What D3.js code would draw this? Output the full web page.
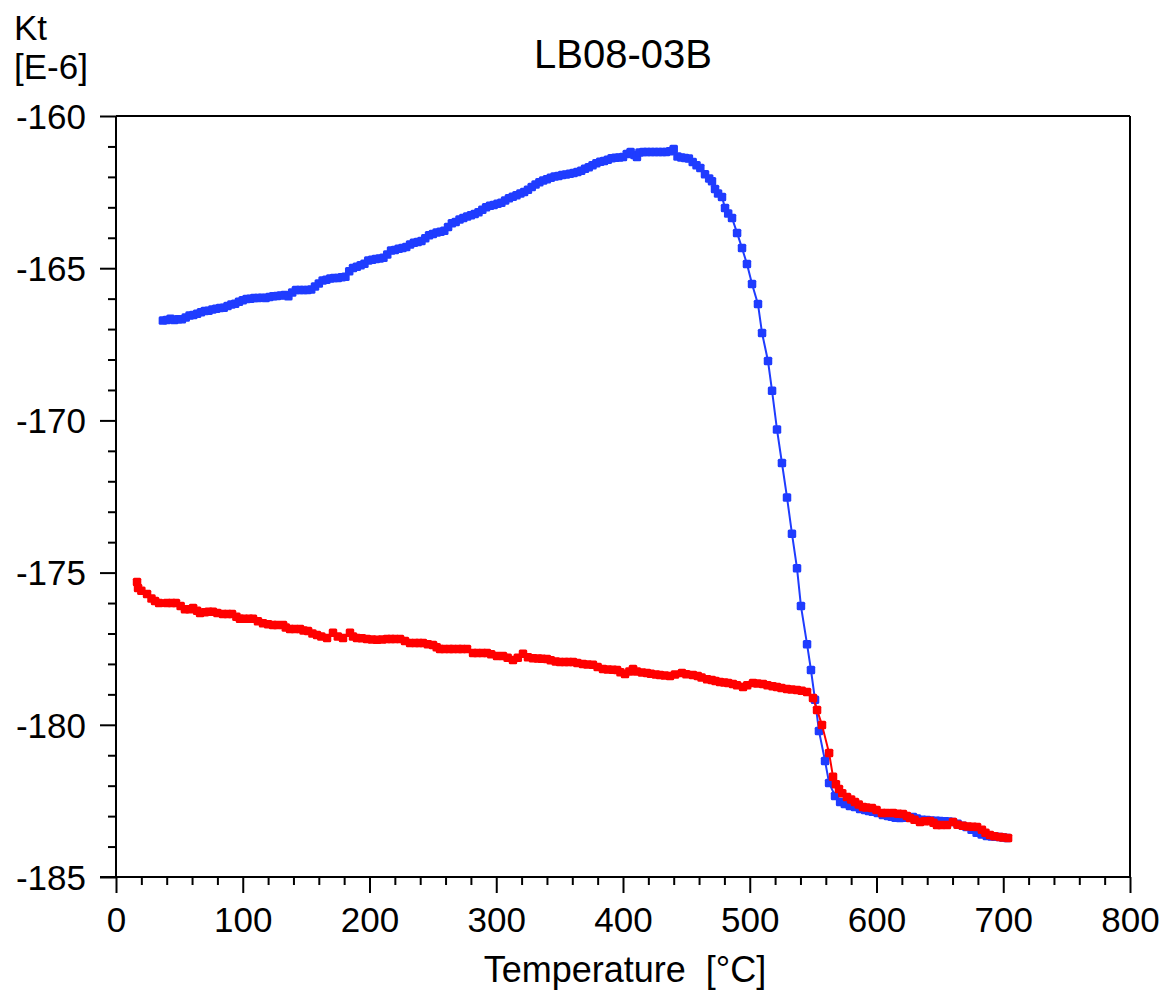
<!DOCTYPE html>
<html>
<head>
<meta charset="utf-8">
<script src="https://cdn.jsdelivr.net/npm/d3@7"></script>
<style>
  html, body { margin: 0; padding: 0; background: #fff; }
  svg { display: block; }
  text { font-family: "Liberation Sans", Arial, Helvetica, sans-serif; fill: #000; }
</style>
</head>
<body>
<svg id="chart" width="1166" height="991"></svg>
<script>
// ---- data ----
const chartTitle = "LB08-03B";
const yUnitLines = ["Kt", "[E-6]"];
const xAxisTitle = "Temperature  [°C]";
const xTicks = [0, 100, 200, 300, 400, 500, 600, 700, 800];
const yTicks = [-185, -180, -175, -170, -165, -160];

// heating curve (blue): temperature °C
const heatT = [37,40,43,46,49,52,55,58,61,64,67,70,73,76,79,82,85,88,91,94,97,100,103,106,109,112,115,118,121,124,127,130,133,136,139,142,145,148,151,154,157,160,163,166,169,172,175,178,181,184,187,190,193,196,199,202,205,208,211,214,217,220,223,226,229,232,235,238,241,244,247,250,253,256,259,262,265,268,271,274,277,280,283,286,289,292,295,298,301,304,307,310,313,316,319,322,325,328,331,334,337,340,343,346,349,352,355,358,361,364,367,370,373,376,379,382,385,388,391,394,397,400,403,406,409,411,413,416,419,422,425,428,431,434,437,440,443,446,449,452,455,458,461,464.7,468,470.2,472.6,475,478.1,480.5,483,486,490,493.9,497.8,501.8,506.5,509.7,514.4,517.6,521.5,525.4,529.4,533.3,537.3,540.4,545.2,548.3,551.5,554.6,559.4,562.6,567.3,571.3,575,579,583,587,591,594,597,601,605,609,612,615,618.5,622,625,628.8,632,636,639.8,643,647,650,654,657,660,664,668,671,675,679,683,687,691,694,697,700,703];
// heating curve (blue): Kt [E-6]
const heatK = [-166.72,-166.70,-166.66,-166.70,-166.68,-166.68,-166.62,-166.55,-166.54,-166.50,-166.45,-166.41,-166.40,-166.36,-166.33,-166.31,-166.30,-166.24,-166.19,-166.17,-166.10,-166.05,-166.01,-166.00,-165.98,-165.98,-165.97,-165.98,-165.95,-165.92,-165.91,-165.90,-165.88,-165.92,-165.80,-165.72,-165.72,-165.72,-165.72,-165.70,-165.60,-165.50,-165.40,-165.38,-165.34,-165.32,-165.32,-165.30,-165.28,-165.10,-164.99,-164.95,-164.90,-164.85,-164.75,-164.72,-164.70,-164.68,-164.66,-164.55,-164.42,-164.40,-164.36,-164.34,-164.30,-164.22,-164.16,-164.14,-164.11,-164.02,-163.92,-163.88,-163.83,-163.80,-163.77,-163.65,-163.52,-163.48,-163.40,-163.35,-163.30,-163.26,-163.22,-163.16,-163.08,-163.00,-162.95,-162.92,-162.88,-162.85,-162.78,-162.70,-162.65,-162.60,-162.55,-162.50,-162.42,-162.33,-162.25,-162.18,-162.12,-162.08,-162.03,-161.99,-161.97,-161.94,-161.92,-161.90,-161.87,-161.84,-161.80,-161.73,-161.68,-161.62,-161.55,-161.50,-161.48,-161.44,-161.39,-161.37,-161.36,-161.35,-161.25,-161.18,-161.28,-161.35,-161.20,-161.18,-161.18,-161.18,-161.18,-161.18,-161.18,-161.18,-161.16,-161.08,-161.33,-161.36,-161.38,-161.40,-161.51,-161.62,-161.71,-161.91,-162.05,-162.14,-162.40,-162.55,-162.66,-163.02,-163.20,-163.35,-163.84,-164.34,-164.86,-165.52,-166.18,-167.13,-168.05,-169.03,-170.30,-171.40,-172.53,-173.72,-174.86,-176.10,-177.35,-178.20,-179.18,-180.20,-181.19,-181.91,-182.34,-182.54,-182.60,-182.67,-182.70,-182.77,-182.80,-182.83,-182.86,-182.90,-182.96,-183.00,-183.02,-183.05,-183.06,-183.05,-183.04,-183.03,-183.08,-183.12,-183.13,-183.14,-183.15,-183.16,-183.17,-183.18,-183.19,-183.25,-183.32,-183.36,-183.45,-183.55,-183.60,-183.65,-183.67,-183.68,-183.69,-183.70,-183.72];

// cooling curve (red): temperature °C
const coolT = [16.6,17.4,20,24.5,28,30.8,34,40.2,44,47.3,51,54.4,58,60.8,64,66.3,70,73,76.5,80,84.4,88,91.5,95,97.8,101,105,108.1,112,116,120,123.9,127,131.8,134,137.3,141,145.2,148,151.5,155,158.6,162,166.5,171.2,175,179.1,184.6,187,190.1,194,198,202,205.9,210,213.8,217,220,224.1,228,232,236,239,242.2,246,250.1,253,255.6,259,263,266,270,273,276.9,281.7,285,289,292.7,296,300.6,305.3,309,313.2,317,321.1,325,329,333,336,340,343,347,350.3,354,357,360.6,364,368.4,372,376.3,380,384.2,388,392,395.3,398,401.6,405,407.9,411,415,418.9,422,426,429.2,433,437.1,441,446.5,450,455.2,459,462,466.3,470,473,476.5,480,483,486.8,490,494.7,498,502.6,506,510.5,514,518,521.5,525,529.4,533,537.3,541,545.2,549.9,553.1,557,562.6,565.7,568,570.4,573,576.7,580,583,586,589.3,592,596.4,600,604.3,608,613,617,620.9,624,626.4,630,634.3,638,642.2,645,647.7,651,655.6,660.4,664,668.3,672,676,679.3,683.2,686,689.5,693,697.4,700,703.8];
// cooling curve (red): Kt [E-6]
const coolK = [-175.31,-175.51,-175.60,-175.70,-175.85,-175.93,-176.00,-176.00,-176.00,-176.00,-176.10,-176.20,-176.20,-176.16,-176.25,-176.33,-176.30,-176.29,-176.29,-176.33,-176.36,-176.36,-176.36,-176.45,-176.52,-176.52,-176.52,-176.52,-176.60,-176.66,-176.70,-176.72,-176.72,-176.72,-176.80,-176.85,-176.85,-176.85,-176.90,-176.92,-177.00,-177.05,-177.10,-177.15,-176.98,-177.10,-177.15,-176.98,-177.10,-177.15,-177.16,-177.18,-177.20,-177.21,-177.20,-177.18,-177.18,-177.18,-177.18,-177.25,-177.31,-177.31,-177.31,-177.31,-177.35,-177.38,-177.45,-177.51,-177.51,-177.51,-177.51,-177.51,-177.51,-177.51,-177.64,-177.64,-177.64,-177.64,-177.68,-177.74,-177.74,-177.80,-177.87,-177.80,-177.67,-177.78,-177.81,-177.82,-177.83,-177.84,-177.88,-177.92,-177.94,-177.94,-177.94,-177.94,-177.97,-178.00,-178.02,-178.03,-178.10,-178.17,-178.18,-178.19,-178.20,-178.27,-178.33,-178.25,-178.17,-178.25,-178.28,-178.30,-178.32,-178.35,-178.36,-178.38,-178.40,-178.35,-178.30,-178.34,-178.36,-178.40,-178.45,-178.50,-178.53,-178.56,-178.59,-178.61,-178.63,-178.66,-178.70,-178.76,-178.70,-178.63,-178.64,-178.66,-178.70,-178.73,-178.76,-178.79,-178.82,-178.84,-178.86,-178.88,-178.92,-179.12,-179.51,-180.01,-180.93,-181.71,-181.95,-182.11,-182.25,-182.37,-182.45,-182.54,-182.62,-182.70,-182.72,-182.73,-182.80,-182.90,-182.90,-182.90,-182.92,-182.93,-183.00,-183.06,-183.12,-183.19,-183.17,-183.16,-183.22,-183.29,-183.29,-183.29,-183.19,-183.28,-183.32,-183.34,-183.35,-183.36,-183.45,-183.55,-183.62,-183.66,-183.69,-183.70,-183.72];

// ---- chart ----
const W = 1166, H = 991;
const margin = { left: 116, right: 36, top: 116, bottom: 114 };
const svg = d3.select("#chart");

const x = d3.scaleLinear().domain([0, 800]).range([margin.left, W - margin.right]);
const y = d3.scaleLinear().domain([-185, -160]).range([H - margin.bottom, margin.top]);

const FS = 35;
const blue = "#1f3cff";
const red = "#ff0000";
const fmt = d => String(d);

// frame (top and right)
svg.append("line").attr("x1", x(800)).attr("x2", x(800)).attr("y1", y(-160)).attr("y2", y(-185))
  .attr("stroke", "#000").attr("stroke-width", 2);
svg.append("line").attr("x1", x(0)).attr("x2", x(800)).attr("y1", y(-160)).attr("y2", y(-160))
  .attr("stroke", "#000").attr("stroke-width", 2);

// x axis
const xMinor = d3.range(0, 801, 20).filter(v => v % 100 !== 0);
const xAxis = svg.append("g").attr("transform", `translate(0,${y(-185)})`);
xAxis.call(d3.axisBottom(x).tickValues(xTicks).tickSize(16).tickPadding(14).tickFormat(fmt));
xAxis.append("g").call(d3.axisBottom(x).tickValues(xMinor).tickSize(8).tickFormat(""))
  .select(".domain").remove();

// y axis
const yMinor = d3.range(-185, -159, 1).filter(v => v % 5 !== 0);
const yAxis = svg.append("g").attr("transform", `translate(${x(0)},0)`);
yAxis.call(d3.axisLeft(y).tickValues(yTicks).tickSize(16).tickPadding(14).tickFormat(fmt));
yAxis.append("g").call(d3.axisLeft(y).tickValues(yMinor).tickSize(8).tickFormat(""))
  .select(".domain").remove();

xAxis.select(".domain").attr("d", `M${x(0) - 16},0H${x(800)}`).attr("stroke-width", 2);
yAxis.select(".domain").attr("d", `M0,${y(-185)}V${y(-160)}`).attr("stroke-width", 2);
svg.selectAll(".tick line").attr("stroke-width", 2);
svg.selectAll(".tick text").attr("font-size", FS).attr("font-family", '"Liberation Sans", Arial, sans-serif').attr("fill", "#000");
yAxis.selectAll(".tick text").attr("dy", "0.35em");

// series
function drawSeries(T, K, color) {
  const pts = T.map((t, i) => [t, K[i]]);
  const g = svg.append("g");
  g.append("path").datum(pts)
    .attr("fill", "none").attr("stroke", color).attr("stroke-width", 2)
    .attr("d", d3.line().x(d => x(d[0])).y(d => y(d[1])));
  const s = 8.5;
  g.selectAll("rect").data(pts).join("rect")
    .attr("x", d => x(d[0]) - s / 2).attr("y", d => y(d[1]) - s / 2)
    .attr("width", s).attr("height", s).attr("rx", 1.5)
    .attr("fill", color);
}
drawSeries(heatT, heatK, blue);
drawSeries(coolT, coolK, red);

// texts
svg.append("text").attr("x", 623).attr("y", 68).attr("text-anchor", "middle")
  .attr("font-size", 40).text(chartTitle);
svg.append("text").attr("x", 14).attr("y", 40).attr("font-size", FS).text(yUnitLines[0]);
svg.append("text").attr("x", 14).attr("y", 79).attr("font-size", FS).text(yUnitLines[1]);
svg.append("text").attr("x", 625).attr("y", 982).attr("text-anchor", "middle")
  .attr("font-size", 36).style("white-space", "pre").text(xAxisTitle);
</script>
</body>
</html>
